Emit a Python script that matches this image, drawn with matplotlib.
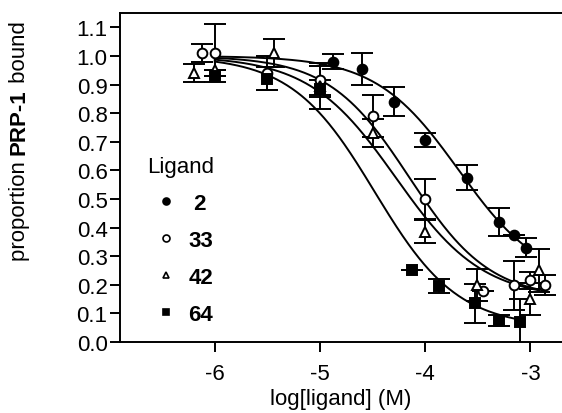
import numpy as np
import matplotlib
matplotlib.use("Agg")
from matplotlib import pyplot as plt
from matplotlib.lines import Line2D

plt.rcParams['font.family'] = ['Liberation Sans', 'DejaVu Sans']
plt.rcParams['axes.unicode_minus'] = False

# data (log[ligand], proportion bound, error)
x_2 = [-4.88, -4.6, -4.3, -4.0, -3.6, -3.3, -3.16, -3.04]
y_2 = [0.98, 0.955, 0.84, 0.705, 0.575, 0.42, 0.375, 0.33]
e_2 = [0.025, 0.055, 0.05, 0.025, 0.045, 0.048, 0.0, 0.033]

x_33 = [-6.12, -6.0, -5.5, -5.0, -4.5, -4.0, -3.45, -3.16, -3.0, -2.86]
y_33 = [1.01, 1.01, 0.94, 0.915, 0.79, 0.50, 0.18, 0.198, 0.215, 0.198]
e_33 = [0.03, 0.10, 0.06, 0.05, 0.075, 0.07, 0.0, 0.085, 0.03, 0.035]

x_42 = [-6.2, -6.0, -5.44, -5.0, -4.5, -4.0, -3.51, -3.0, -2.92]
y_42 = [0.94, 0.95, 1.01, 0.895, 0.73, 0.385, 0.20, 0.15, 0.25]
e_42 = [0.03, 0.0, 0.05, 0.08, 0.05, 0.04, 0.055, 0.055, 0.075]

x_64 = [-6.0, -5.5, -5.0, -4.13, -3.87, -3.53, -3.30, -3.10]
y_64 = [0.93, 0.92, 0.885, 0.25, 0.195, 0.135, 0.075, 0.071]
e_64 = [0.0, 0.04, 0.03, 0.0, 0.025, 0.068, 0.02, 0.08]

# fitted curves: top, bottom, logEC50, hill slope
fit_2 = (1.0, 0.2, -3.68, 1.1)
fit_33 = (1.0, 0.15, -4.15, 1.13)
fit_42 = (1.0, 0.15, -4.28, 1.05)
fit_64 = (1.0, 0.05, -4.48, 1.1)

ligands = [' 2', '33', '42', '64']


def dose_response(x, top, bottom, logec50, hill):
    return bottom + (top - bottom) / (1 + 10 ** ((x - logec50) * hill))


fig = plt.figure(figsize=(5.62, 4.14), dpi=100)
ax = fig.add_axes([120 / 562, 71 / 414, 442 / 562, 329 / 414])

series = [
    (x_2, y_2, e_2, fit_2, 'o', 'black'),
    (x_33, y_33, e_33, fit_33, 'o', 'white'),
    (x_42, y_42, e_42, fit_42, '^', 'white'),
    (x_64, y_64, e_64, fit_64, 's', 'black'),
]

for x, y, e, fit, marker, face in series:
    xs = np.linspace(-6.0, max(x), 300)
    ax.plot(xs, dose_response(xs, *fit), color='black', lw=1.4, zorder=2)
    ax.errorbar(x, y, yerr=e, fmt=marker, ms=7, mfc=face, mec='black',
                mew=1.4, ecolor='black', elinewidth=1.4, capsize=8,
                capthick=1.4, zorder=3)

ax.set_xlim(-6.9, -2.7)
ax.set_ylim(0, 1.15)
ax.set_xticks([-6, -5, -4, -3])
ax.set_yticks(np.arange(0, 1.11, 0.1))
ax.set_yticklabels(['%.1f' % v for v in np.arange(0, 1.11, 0.1)])
ax.tick_params(direction='out', length=7, width=1.4, labelsize=16)
ax.tick_params(axis='x', pad=8)
ax.tick_params(axis='y', pad=2)
for s in ['left', 'bottom', 'top']:
    ax.spines[s].set_linewidth(1.4)
ax.spines['right'].set_visible(False)
ax.set_xlabel('log[ligand] (M)', fontsize=16, labelpad=3)

# legend
handles = [Line2D([], [], ls='none', marker='o', ms=5, mfc='black', mec='black', mew=1.2),
           Line2D([], [], ls='none', marker='o', ms=5, mfc='white', mec='black', mew=1.2),
           Line2D([], [], ls='none', marker='^', ms=5, mfc='white', mec='black', mew=1.2),
           Line2D([], [], ls='none', marker='s', ms=5, mfc='black', mec='black', mew=1.2)]
leg = ax.legend(handles, ligands, title='Ligand', loc='upper left',
                bbox_to_anchor=(0.036, 0.6), frameon=False, handlelength=1.75,
                handletextpad=0.1, labelspacing=0.72, borderpad=0,
                prop={'size': 16, 'weight': 'bold'}, title_fontsize=16)
leg._legend_box.align = 'left'

# y label with bold middle part
r = fig.canvas.get_renderer()
parts = [('proportion ', 'normal'), ('PRP-1', 'bold'), (' bound', 'normal')]
ypos = 0.37
for txt, w in parts:
    t = fig.text(0.034, ypos, txt, rotation=90, fontsize=16, weight=w,
                 ha='center', va='bottom')
    bb = t.get_window_extent(r)
    ypos = bb.y1 / fig.bbox.height

fig.savefig('out.png', dpi=100)
